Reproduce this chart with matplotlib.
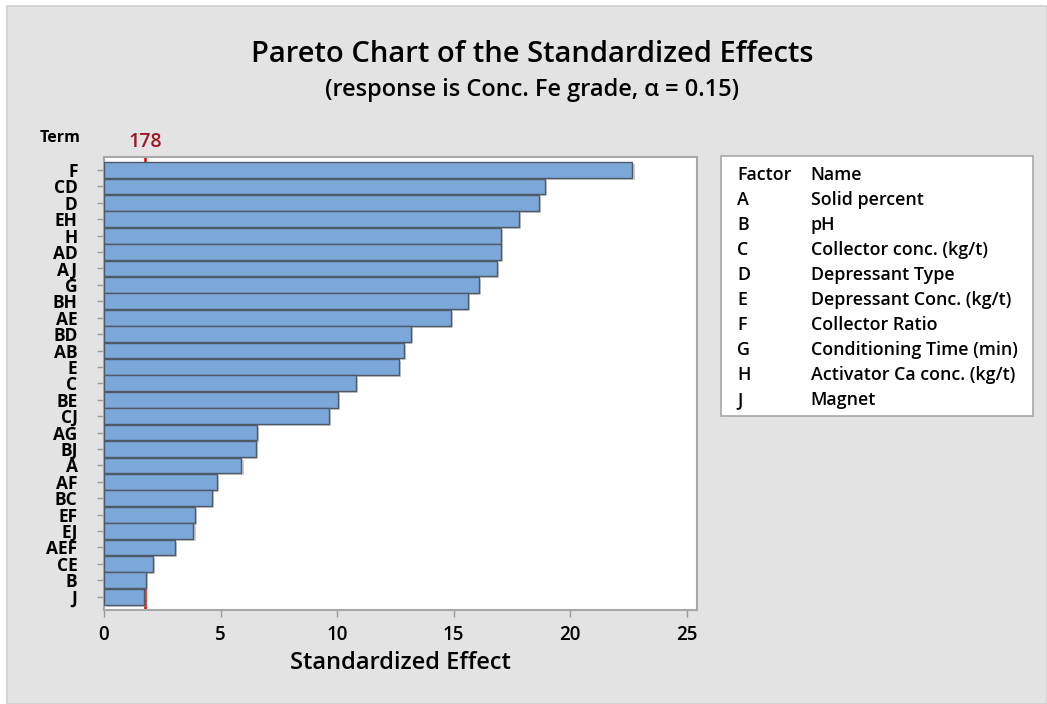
import numpy as np
import matplotlib
matplotlib.use("Agg")
import matplotlib.pyplot as plt
from matplotlib.patches import Rectangle
import matplotlib.patheffects as pe

plt.rcParams['font.family'] = ['Open Sans', 'DejaVu Sans']

# 标准化效应 (从大到小)
terms = ['F', 'CD', 'D', 'EH', 'H', 'AD', 'AJ', 'G', 'BH', 'AE', 'BD', 'AB', 'E',
         'C', 'BE', 'CJ', 'AG', 'BJ', 'A', 'AF', 'BC', 'EF', 'EJ', 'AEF', 'CE', 'B', 'J']
effects = [22.68, 18.93, 18.67, 17.81, 17.04, 17.04, 16.87, 16.09, 15.62, 14.91, 13.18,
           12.88, 12.64, 10.83, 10.04, 9.66, 6.57, 6.52, 5.90, 4.85, 4.64, 3.92, 3.84,
           3.06, 2.10, 1.80, 1.72]
ref_value = 1.78
ref_label = '178'
x_ticks = [0, 5, 10, 15, 20, 25]

factor_codes = ['A', 'B', 'C', 'D', 'E', 'F', 'G', 'H', 'J']
factor_names = ['Solid percent', 'pH', 'Collector conc. (kg/t)', 'Depressant Type',
                'Depressant Conc. (kg/t)', 'Collector Ratio', 'Conditioning Time (min)',
                'Activator Ca conc. (kg/t)', 'Magnet']

W, H = 1047, 704
fig = plt.figure(figsize=(W / 100, H / 100), dpi=100, facecolor='white')

# 灰色背景面板
fig.patches.append(Rectangle((7 / W, 0), 1 - 7 / W, 1 - 6 / H, transform=fig.transFigure,
                             facecolor='#e3e3e3', edgecolor='#cfcfcf', lw=1.2, zorder=-5))

ax = fig.add_axes([104 / W, 1 - 610 / H, (697 - 104) / W, (610 - 156.7) / H])
ax.set_zorder(2)
ax.set_facecolor('white')

ypos = np.arange(len(terms))
bars = ax.barh(ypos, effects, height=0.96, color='#7ba7d9', edgecolor='#4f5a68',
               linewidth=1.0, zorder=3)
for b in bars:
    b.set_path_effects([pe.SimplePatchShadow(offset=(1.5, -1.5), shadow_rgbFace='#9a9a9a',
                                             alpha=0.5), pe.Normal()])

# 参考线 (被柱子遮挡)
ax.axvline(ref_value, color='#e00000', lw=1.8, zorder=1)
ax.text(ref_value, 1.01, ref_label, transform=ax.get_xaxis_transform(), ha='center',
        va='bottom', color='#a0161e', fontsize=14, fontweight='semibold')

ax.set_xlim(0, 25.45)
ax.set_ylim(len(terms) - 1 + 0.81, -0.81)
ax.set_yticks(ypos)
ax.set_yticklabels(terms, fontsize=12.5, fontweight='bold')
ax.set_xticks(x_ticks)
ax.set_xticklabels([str(t) for t in x_ticks], fontsize=13.5, fontweight='semibold')
ax.tick_params(axis='both', colors='#9a9a9a', labelcolor='black', length=5, width=1)
ax.tick_params(axis='y', pad=14)
ax.tick_params(axis='x', pad=6)
for s in ax.spines.values():
    s.set_color('#a8a8a8')
    s.set_linewidth(1.5)

fig.text(0.5086, 1 - 55 / H, 'Pareto Chart of the Standardized Effects', ha='center',
         va='center', fontsize=21, fontweight='semibold')
fig.text(0.5086, 1 - 90 / H, '(response is Conc. Fe grade, α = 0.15)', ha='center',
         va='center', fontsize=17, fontweight='semibold')
fig.text(80 / W, 1 - 138 / H, 'Term', ha='right', va='center', fontsize=11.5,
         fontweight='bold')
fig.text(400.5 / W, 1 - 663 / H, 'Standardized Effect', ha='center', va='center',
         fontsize=17, fontweight='semibold')

# 因子说明框
fig.patches.append(Rectangle((720.7 / W, 1 - 415.7 / H), (1033 - 720.7) / W,
                             (415.7 - 156) / H, transform=fig.transFigure,
                             facecolor='white', edgecolor='#a8a8a8', lw=1.2, zorder=1))
fs_leg = 12.9
fig.text(737 / W, 1 - 175 / H, 'Factor', va='center', fontsize=fs_leg, fontweight='semibold')
fig.text(810.7 / W, 1 - 175 / H, 'Name', va='center', fontsize=fs_leg, fontweight='semibold')
for i, (c, n) in enumerate(zip(factor_codes, factor_names)):
    y = 1 - (200 + 25 * i) / H
    fig.text(737 / W, y, c, va='center', fontsize=fs_leg, fontweight='semibold')
    fig.text(810.7 / W, y, n, va='center', fontsize=fs_leg, fontweight='semibold')

fig.savefig('out.png', dpi=100, facecolor=fig.get_facecolor())
